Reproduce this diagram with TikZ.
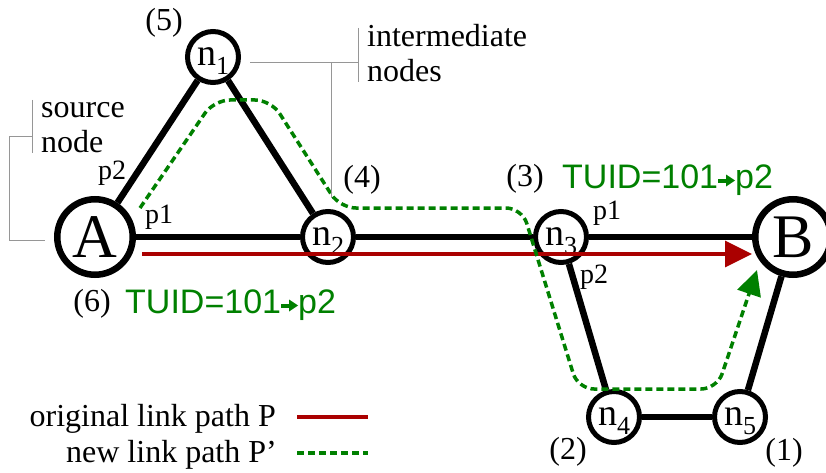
\documentclass[tikz,border=0pt]{standalone}
\usepackage{fontspec}
\setmainfont{Liberation Serif}
\setsansfont{Liberation Sans}
\usetikzlibrary{arrows.meta}
\definecolor{pgreen}{RGB}{0,128,0}
\definecolor{pred}{RGB}{170,0,0}
\definecolor{bgray}{RGB}{150,150,150}
\newcommand{\tarrow}{\tikz[baseline=0pt,x=1pt,y=1pt]{\fill (1,5.5) rectangle (10,9.5); \fill (9,1.5) -- (18,7.5) -- (9,13.5) -- cycle;}}
\newcommand{\nsub}[1]{n\raisebox{-9pt}[0pt][0pt]{\fontsize{26}{26}\selectfont #1}}
\begin{document}
\begin{tikzpicture}[x=1pt,y=-1pt,
  bignode/.style={circle,draw,line width=6.5pt,minimum size=75.5pt,inner sep=0pt,font=\fontsize{62}{62}\selectfont},
  smallnode/.style={circle,draw,line width=5pt,minimum size=51pt,inner sep=0pt,font=\fontsize{38}{38}\selectfont},
  edge/.style={line width=6.5pt},
  lbl/.style={font=\fontsize{32}{32}\selectfont, inner sep=0pt},
  port/.style={font=\fontsize{28}{28}\selectfont, inner sep=0pt},
  tuid/.style={font=\sffamily\fontsize{34}{34}\selectfont, text=pgreen, inner sep=0pt},
  note/.style={font=\fontsize{32}{32}\selectfont, inner sep=0pt},
  bracket/.style={draw=bgray, line width=1pt},
  oldpath/.style={draw=pred, line width=3.5pt},
  newpath/.style={draw=pgreen, line width=3.5pt, dash pattern=on 7pt off 4pt},
]
\useasboundingbox (0,0) rectangle (826,473);

% nodes
\node[bignode] (A) at (95,237) {A};
\node[bignode] (B) at (793,237) {B};
\node[smallnode] (n1) at (213,57) {\nsub{1}};
\node[smallnode] (n2) at (328,237) {\nsub{2}};
\node[smallnode] (n3) at (561,237) {\nsub{3}};
\node[smallnode] (n4) at (614,417) {\nsub{4}};
\node[smallnode] (n5) at (740,417) {\nsub{5}};

% edges
\draw[edge] (A) -- (n1);
\draw[edge] (n1) -- (n2);
\draw[edge] (A) -- (n2);
\draw[edge] (n2) -- (n3);
\draw[edge] (n3) -- (B);
\draw[edge] (n3) -- (n4);
\draw[edge] (n4) -- (n5);
\draw[edge] (n5) -- (B);

% original path
\coordinate (rs) at (142,254);
\coordinate (re) at (752,254);
\draw[oldpath, -{Triangle[length=27pt,width=26pt]}] (rs) -- (re);

% new path
\coordinate (gs) at (140,208);
\coordinate (ge) at (757,270);
\draw[newpath, rounded corners=16pt, -{Triangle[length=25pt,width=24pt]}]
  (gs) -- (214,100) -- (271,100) -- (340,208) -- (522,208) -- (578,389) -- (717,389) -- (ge);

% annotations
\node[note, anchor=base west] (src1) at (41,118) {source};
\node[note, anchor=base west] (src2) at (41,153) {node};
\node[note, anchor=base west] (int1) at (367,47) {intermediate};
\node[note, anchor=base west] (int2) at (367,82) {nodes};
\draw[bracket] (32,100) -- (32,153);
\draw[bracket] (32,137) -- (9,137) -- (9,240) -- (45,240);
\draw[bracket] (358,28) -- (358,82);
\draw[bracket] (358,63) -- (250,63);
\draw[bracket] (331,63) -- (331,198);

% step labels
\node[lbl] (l5) at (164,23) {(5)};
\node[lbl] (l4) at (362,180) {(4)};
\node[lbl] (l3) at (525,179) {(3)};
\node[lbl] (l2) at (568,452) {(2)};
\node[lbl] (l1) at (784,453) {(1)};
\node[lbl] (l6) at (92,304) {(6)};

% TUID labels
\node[tuid, anchor=base west] (t1) at (562,188) {TUID=101\tarrow p2};
\node[tuid, anchor=base west] (t2) at (125,313) {TUID=101\tarrow p2};

% ports
\node[port] (pa2) at (112,173) {p2};
\node[port] (pa1) at (159,217) {p1};
\node[port] (pb1) at (607,213) {p1};
\node[port] (pb2) at (594,277) {p2};

% legend
\node[lbl, anchor=base east] (leg1) at (276,426) {original link path P};
\node[lbl, anchor=base east] (leg2) at (277,462) {new link path P'};
\coordinate (la) at (297,417);
\coordinate (lb) at (368,417);
\coordinate (lc) at (297,453);
\coordinate (ld) at (368,453);
\draw[oldpath] (la) -- (lb);
\draw[newpath] (lc) -- (ld);
\end{tikzpicture}
\end{document}
